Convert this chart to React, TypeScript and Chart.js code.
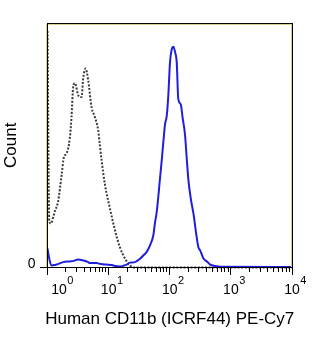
import React, { useEffect, useRef } from "react";
import { Chart, registerables } from "chart.js";

Chart.register(...registerables);

// CD11b-stained cells (solid blue histogram): fluorescence intensity vs. count (% of max scale)
const stainedIntensity = [
  1, 1.05, 1.16, 1.27, 1.41, 1.8, 2.32, 2.69, 3.18, 3.84, 4.57, 4.93, 6.35, 7.48, 9.27,
  11.3, 12.7, 15.3, 17.8, 19.7, 22.3, 26.9, 32.7, 36.9, 42.5, 47.5, 53.8, 57.4, 61.2,
  69.3, 74.0, 79.0, 83.8, 89.3, 94.8, 101, 107, 115, 122, 130, 138, 151, 163, 178, 188,
  202, 223, 244, 269, 294, 314, 356, 405, 458, 553, 668, 10000,
];
const stainedCount = [
  7.8, 4.5, 0.8, 1.0, 1.2, 2.2, 2.5, 2.7, 3.3, 2.9, 2.3, 1.8, 1.8, 1.4, 1.2,
  1.0, 0.6, 0.4, 0.8, 1.2, 2.0, 2.2, 3.6, 4.9, 6.6, 9.0, 13.1, 18.4, 22.7,
  36.5, 43.9, 52, 58.6, 62, 70.5, 84, 88.9, 90.3, 88.1, 84, 68.9, 66.8, 61, 54.1, 45.9,
  35.7, 27.5, 22.1, 14.3, 8.3, 7.0, 3.7, 2.5, 1.2, 0.6, 0.3, 0.2,
];

// Isotype control (dotted grey histogram)
const isotypeIntensity = [
  1, 1.07, 1.13, 1.32, 1.49, 1.7, 1.85, 2.05, 2.32, 2.47, 2.63, 2.81, 3.18, 3.39, 3.61,
  3.84, 4.2, 4.63, 5.26, 5.96, 6.76, 7.19, 7.67, 8.69, 10.5, 12.7, 15.3, 18.5, 22.3, 26.0,
  100, 1000, 10000,
];
const isotypeCount = [
  96.7, 18.9, 18.0, 23, 27, 37.7, 45, 46.7, 52.9, 61.5, 73.8, 75.4, 70.5, 69.7, 69.7,
  77.5, 81.4, 76.6, 65.6, 61.5, 56.1, 50, 43.9, 34, 24.2, 15.2, 8.3, 3.7, 0.8, 0,
  0, 0, 0,
];

// Axis labelling
const decadeValues = [1, 10, 100, 1000, 10000];
const decadeExponents = ["0", "1", "2", "3", "4"];
const minorMultipliers = [2, 3, 4, 5, 6, 7, 8, 9];
const yTickValues = [0];
const yTickLabels = ["0"];
const xTitle = "Human CD11b (ICRF44) PE-Cy7";
const yTitle = "Count";

const FONT = "'Liberation Sans', Arial, Helvetica, sans-serif";

const flowAxes = {
  id: "flowAxes",
  afterDraw(chart: any) {
    const { ctx, chartArea: a, scales } = chart;
    const xs = scales.x;
    const ys = scales.y;
    const l = Math.floor(a.left);
    const t = Math.floor(a.top);
    const r = Math.floor(a.right);
    const b = Math.floor(a.bottom);
    ctx.save();

    // plot frame: black outline with a pale olive inner edge
    ctx.fillStyle = "#d9cf8c";
    ctx.fillRect(l - 1, t + 1, 1, b - t - 1);
    ctx.fillRect(r - 1, t + 1, 1, b - t - 1);
    ctx.fillRect(l + 1, t + 1, r - l - 1, 1);
    ctx.fillStyle = "#000";
    ctx.fillRect(l, t, r - l + 1, 1);
    ctx.fillRect(l, b, r - l + 1, 1);
    ctx.fillRect(l, t, 1, b - t + 1);
    ctx.fillRect(r, t, 1, b - t + 1);

    // x ticks: long at decades, short in between
    decadeValues.forEach((v, d) => {
      const px = Math.floor(xs.getPixelForValue(v));
      ctx.fillRect(px, b, 1, 8);
      if (d < decadeValues.length - 1) {
        minorMultipliers.forEach((m) => {
          const mx = Math.floor(xs.getPixelForValue(v * m));
          ctx.fillRect(mx, b, 1, 5);
        });
      }
    });
    // y ticks
    yTickValues.forEach((v) => {
      const py = Math.floor(ys.getPixelForValue(v));
      ctx.fillRect(l - 7, py, 8, 1);
    });

    // decade labels 10^n
    decadeValues.forEach((v, d) => {
      const px = xs.getPixelForValue(v);
      const cx = d === 0 ? px + 11.5 : px;
      ctx.font = `14px ${FONT}`;
      ctx.textAlign = "center";
      ctx.textBaseline = "alphabetic";
      const w = ctx.measureText("10").width;
      ctx.fillText("10", cx, a.bottom + 26);
      ctx.font = `11px ${FONT}`;
      ctx.textAlign = "left";
      ctx.fillText(decadeExponents[d], cx + w / 2 + 0.5, a.bottom + 16.5);
    });

    // y labels
    ctx.font = `14px ${FONT}`;
    ctx.textAlign = "right";
    ctx.textBaseline = "alphabetic";
    yTickValues.forEach((v, i) => {
      ctx.fillText(yTickLabels[i], a.left - 12, ys.getPixelForValue(v));
    });

    // axis titles
    ctx.font = `17px ${FONT}`;
    ctx.textAlign = "center";
    ctx.fillText(xTitle, (a.left + a.right) / 2, a.bottom + 56);
    ctx.translate(15.5, (a.top + a.bottom) / 2);
    ctx.rotate(-Math.PI / 2);
    ctx.fillText(yTitle, 0, 0);
    ctx.restore();
  },
};

export default function App() {
  const ref = useRef<HTMLCanvasElement>(null);

  useEffect(() => {
    const canvas = ref.current;
    if (!canvas) return;
    const chart = new Chart(canvas, {
      type: "line",
      data: {
        datasets: [
          {
            label: "CD11b",
            data: stainedIntensity.map((x, i) => ({ x, y: stainedCount[i] })),
            borderColor: "#1f1fdc",
            borderWidth: 2,
            pointRadius: 0,
            cubicInterpolationMode: "monotone",
            fill: false,
            clip: false,
          },
          {
            label: "Isotype",
            data: isotypeIntensity.map((x, i) => ({ x, y: isotypeCount[i] })),
            borderColor: "#3c3c3c",
            borderWidth: 2,
            borderDash: [2, 1.6],
            pointRadius: 0,
            cubicInterpolationMode: "monotone",
            fill: false,
            clip: false,
          },
        ],
      },
      options: {
        responsive: false,
        animation: false,
        events: [],
        layout: { padding: { left: 47.5, top: 23, right: 28, bottom: 82.5 } },
        scales: {
          x: { type: "logarithmic", min: 1, max: 10000, display: false },
          y: { type: "linear", min: 0, max: 100, display: false },
        },
        plugins: { legend: { display: false }, tooltip: { enabled: false } },
      },
      plugins: [flowAxes],
    } as any);
    return () => chart.destroy();
  }, []);

  return (
    <div style={{ position: "fixed", left: 0, top: 0, width: 320, height: 350, background: "#fff" }}>
      <canvas ref={ref} width={320} height={350} style={{ display: "block", width: 320, height: 350 }} />
    </div>
  );
}
